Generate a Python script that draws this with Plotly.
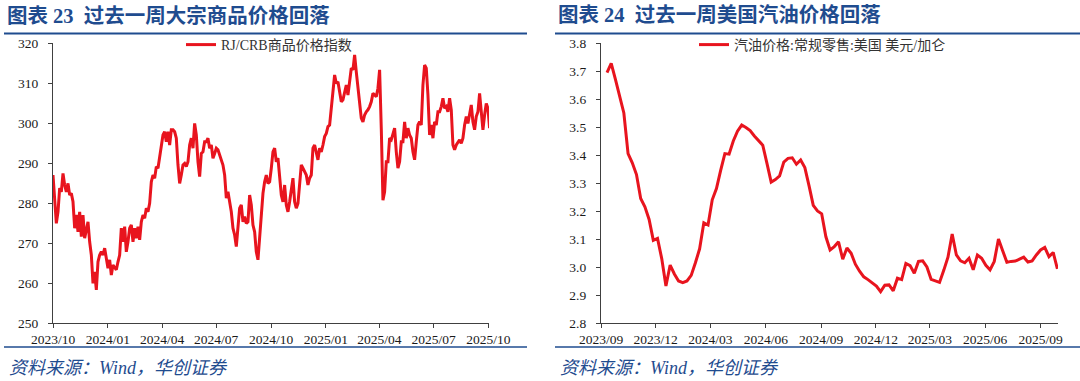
import pandas as pd
import plotly.graph_objects as go

# ---------------- data ----------------
crb_start, crb_end = "2023-10-01", "2025-10-03"
crb_values = [
    287.0, 279.5, 274.9, 277.8, 283.7, 282.8, 287.4, 284.5, 282.8, 284.9,
    282.0, 282.4, 280.3, 273.7, 277.0, 272.8, 277.8, 271.6, 277.0, 271.2,
    273.7, 275.3, 270.3, 267.0, 259.9, 262.8, 258.3, 265.3, 267.0, 267.8,
    267.0, 268.7, 266.2, 263.7, 265.8, 262.0, 264.5, 263.7, 263.3, 265.3,
    267.0, 273.7, 270.3, 274.1, 267.8, 270.3, 273.7, 274.5, 270.3, 273.7,
    271.2, 274.1, 270.8, 275.3, 277.0, 276.2, 278.7, 277.8, 279.9, 285.3,
    287.0, 286.2, 289.1, 288.7, 291.6, 293.7, 297.0, 297.8, 295.3, 297.8,
    294.5, 298.3, 298.3, 297.8, 296.2, 289.5, 284.9, 287.0, 289.5, 289.9,
    289.1, 290.3, 294.5, 296.2, 293.7, 299.9, 297.0, 290.3, 286.6, 292.4,
    292.8, 295.3, 295.3, 296.2, 293.7, 294.5, 291.2, 292.4, 293.7, 293.3,
    292.0, 290.3, 289.5, 287.0, 281.2, 282.8, 280.3, 277.8, 273.7, 272.0,
    269.1, 274.5, 278.7, 279.5, 275.3, 276.6, 274.9, 275.3, 282.0, 279.5,
    274.5, 272.8, 267.8, 265.8, 271.2, 278.7, 282.4, 285.3, 287.0, 284.9,
    285.3, 288.7, 292.8, 293.7, 290.3, 291.2, 285.3, 282.0, 280.3, 284.5,
    279.5, 277.8, 280.3, 282.8, 286.2, 280.3, 278.7, 279.9, 284.5, 289.5,
    288.7, 287.8, 287.0, 284.5, 286.2, 287.0, 293.7, 294.5, 292.8, 290.8,
    293.7, 292.8, 294.5, 296.6, 297.4, 299.1, 299.5, 303.7, 307.8, 312.0,
    309.9, 310.3, 307.8, 305.3, 305.8, 307.8, 309.5, 307.0, 311.2, 313.7,
    313.3, 317.0, 312.8, 308.7, 304.5, 301.2, 300.3, 302.0, 302.8, 303.3,
    304.1, 305.3, 307.4, 307.0, 306.6, 308.7, 313.3, 298.7, 280.7, 282.8,
    290.3, 290.3, 296.2, 295.8, 297.0, 298.7, 292.8, 288.7, 290.3, 295.3,
    295.3, 300.3, 296.2, 298.7, 297.0, 296.2, 292.8, 290.8, 295.3, 299.5,
    300.3, 299.5, 309.5, 314.5, 313.7, 307.0, 297.0, 299.5, 296.2, 300.3,
    299.5, 302.8, 302.8, 304.1, 306.2, 303.7, 304.1, 302.8, 306.2, 303.3,
    294.5, 293.3, 294.5, 295.3, 295.8, 294.9, 296.2, 299.5, 301.6, 299.9,
    302.8, 304.5, 300.3, 298.3, 301.6, 302.8, 307.4, 301.6, 298.3, 302.0,
    304.9, 303.7, 298.7,
]
crb_dates = pd.date_range(crb_start, crb_end, periods=len(crb_values))

gas_start = "2023-09-11"  # weekly, Mondays
gas_values = [
    3.694, 3.727, 3.67, 3.615, 3.55, 3.405, 3.372, 3.33, 3.245, 3.215,
    3.17, 3.095, 3.102, 3.03, 2.932, 3.007, 2.975, 2.95, 2.944, 2.95,
    2.97, 3.015, 3.065, 3.158, 3.150, 3.24, 3.28, 3.345, 3.405, 3.403,
    3.45, 3.485, 3.507, 3.498, 3.487, 3.468, 3.452, 3.435, 3.37, 3.303,
    3.312, 3.325, 3.375, 3.388, 3.39, 3.367, 3.382, 3.355, 3.29, 3.22,
    3.20, 3.19, 3.108, 3.061, 3.073, 3.09, 3.028, 3.068, 3.049, 3.01,
    2.985, 2.965, 2.955, 2.945, 2.932, 2.912, 2.935, 2.936, 2.915, 2.96,
    2.955, 3.013, 3.005, 2.978, 3.02, 3.022, 3.0, 2.956, 2.95, 2.945,
    2.988, 3.035, 3.118, 3.043, 3.022, 3.015, 3.031, 2.99, 3.043, 3.031,
    3.006, 2.99, 3.02, 3.10, 3.058, 3.017, 3.02, 3.021, 3.028, 3.035,
    3.018, 3.022, 3.043, 3.061, 3.07, 3.037, 3.052, 2.993,
]
gas_dates = pd.date_range(gas_start, periods=len(gas_values), freq="7D")

crb_name = "RJ/CRB商品价格指数"
gas_name = "汽油价格:常规零售:美国 美元/加仑"
title_left = "图表 23\u00a0\u00a0过去一周大宗商品价格回落"
title_right = "图表 24\u00a0\u00a0过去一周美国汽油价格回落"
source_text = "资料来源：Wind，华创证券"

# ---------------- styling ----------------
W, H = 1080, 381
RED = "#E8141E"
BLUE = "#1F4C8F"
AXIS = "#404040"
FONT = "Liberation Serif, Noto Sans CJK SC, serif"


def fx(p):
    return p / W


def fy(p):
    return 1 - p / H


fig = go.Figure()
fig.add_trace(go.Scatter(x=crb_dates, y=crb_values, mode="lines", name=crb_name,
                         line=dict(color=RED, width=3), xaxis="x", yaxis="y",
                         legend="legend"))
fig.add_trace(go.Scatter(x=gas_dates, y=gas_values, mode="lines", name=gas_name,
                         line=dict(color=RED, width=3), xaxis="x2", yaxis="y2",
                         legend="legend2"))

common_x = dict(type="date", showline=True, linecolor=AXIS, linewidth=1.3,
                ticks="outside", ticklen=4, tickcolor=AXIS, tickwidth=1.3,
                showgrid=False, zeroline=False, tickformat="%Y/%m",
                dtick="M3", tickmode="linear", automargin=False,
                tickfont=dict(family=FONT, size=13.5, color="#1a1a1a"))
common_y = dict(showline=True, linecolor=AXIS, linewidth=1.3,
                ticks="outside", ticklen=4, tickcolor=AXIS, tickwidth=1.3,
                showgrid=False, zeroline=False, tickmode="linear",
                ticklabelstandoff=7, automargin=False,
                tickfont=dict(family=FONT, size=13.5, color="#1a1a1a"))

fig.update_layout(
    width=W, height=H, autosize=False,
    margin=dict(l=0, r=0, t=0, b=0, autoexpand=False),
    paper_bgcolor="white", plot_bgcolor="white",
    xaxis=dict(common_x, domain=[fx(53), fx(489)], anchor="y",
               range=["2023-10-01", "2025-10-02"], tick0="2023-10-01"),
    yaxis=dict(common_y, domain=[fy(323), fy(43)], anchor="x",
               range=[250, 320], tick0=250, dtick=10),
    xaxis2=dict(common_x, domain=[fx(601), fx(1058)], anchor="y2",
                range=["2023-09-01", "2025-09-30"], tick0="2023-09-01"),
    yaxis2=dict(common_y, domain=[fy(323), fy(43)], anchor="x2",
                range=[2.8, 3.8], tick0=2.8, dtick=0.1, tickformat=".1f"),
    legend=dict(x=fx(181), y=fy(29), xanchor="left", yanchor="top",
                bgcolor="rgba(0,0,0,0)",
                font=dict(family=FONT, size=14, color="#333333")),
    legend2=dict(x=fx(694), y=fy(29), xanchor="left", yanchor="top",
                 bgcolor="rgba(0,0,0,0)",
                 font=dict(family=FONT, size=14, color="#333333")),
    showlegend=True,
)

shapes = []
for x0, x1 in [(4, 527), (555, 1080)]:
    shapes.append(dict(type="line", xref="paper", yref="paper",
                       x0=fx(x0), x1=fx(x1), y0=fy(33.5), y1=fy(33.5),
                       line=dict(color=BLUE, width=2.2)))
    shapes.append(dict(type="line", xref="paper", yref="paper",
                       x0=fx(x0), x1=fx(x1), y0=fy(347), y1=fy(347),
                       line=dict(color=BLUE, width=1.3)))
fig.update_layout(shapes=shapes)

annotations = []
for xpos, txt in [(5, title_left), (556, title_right)]:
    annotations.append(dict(xref="paper", yref="paper", x=fx(xpos), y=fy(15),
                            xanchor="left", yanchor="middle", showarrow=False,
                            text="<b>" + txt + "</b>",
                            font=dict(family=FONT, size=20.5, color=BLUE)))
for xpos in [7, 558]:
    annotations.append(dict(xref="paper", yref="paper", x=fx(xpos), y=fy(368),
                            xanchor="left", yanchor="middle", showarrow=False,
                            text=source_text,
                            font=dict(family=FONT, size=18, color=BLUE,
                                      style="italic")))
fig.update_layout(annotations=annotations)

fig.write_html("out.html", config={"displayModeBar": False},
               post_script="document.body.style.margin='0';")
